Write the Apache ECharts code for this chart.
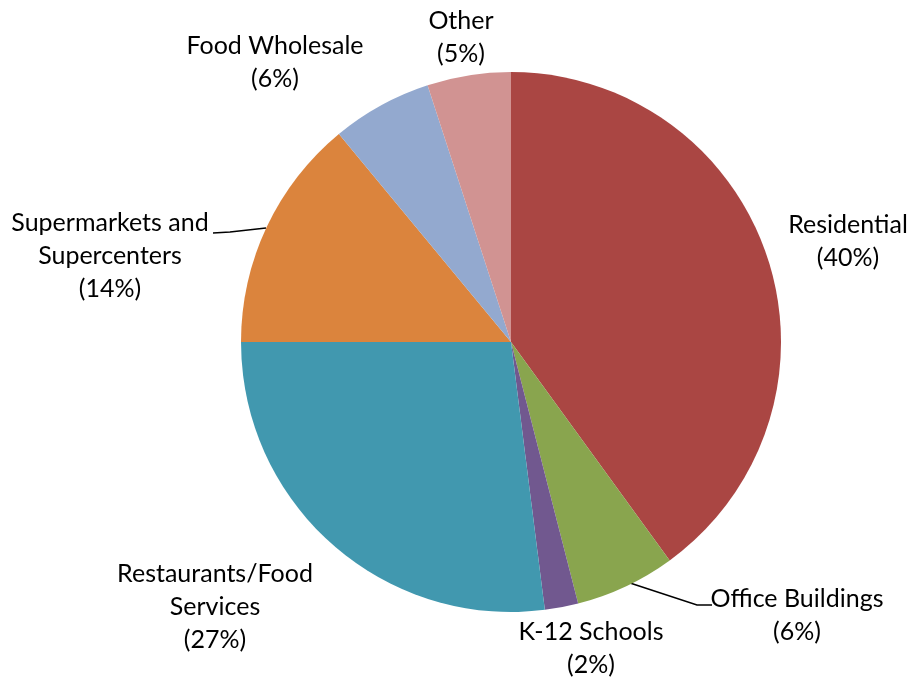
<!DOCTYPE html>
<html>
<head>
<meta charset="utf-8">
<script src="https://cdn.jsdelivr.net/npm/echarts@6/dist/echarts.min.js"></script>
<style>
html,body{margin:0;padding:0;background:#fff;}
#chart{width:910px;height:679px;}
</style>
</head>
<body>
<div id="chart"></div>
<script>
// Data
const categories = ["Residential", "Office Buildings", "K-12 Schools", "Restaurants/Food\nServices", "Supermarkets and\nSupercenters", "Food Wholesale", "Other"];
const shares = [40, 6, 2, 27, 14, 6, 5];
const colors = ["#AA4643", "#89A54E", "#71588F", "#4198AF", "#DB843D", "#93A9CF", "#D19392"];

// Label layout (centres of label blocks) and leader lines
const labelCentres = [[848, 241], [797, 615], [591, 648], [215, 607], [110, 256], [275, 62], [461, 37]];
const leaderLines = {
  1: [[630, 583], [697, 605], [712, 605]],
  4: [[266, 228], [230, 232], [213, 233]]
};

const chart = echarts.init(document.getElementById('chart'), null, {renderer: 'canvas'});
const FONT = 'Lato';
chart.setOption({
  animation: false,
  backgroundColor: '#ffffff',
  series: [{
    type: 'pie',
    center: [511, 342],
    radius: 270,
    startAngle: 90,
    clockwise: true,
    avoidLabelOverlap: false,
    itemStyle: {borderWidth: 0},
    label: {
      show: true,
      position: 'outside',
      formatter: p => p.name + '\n(' + p.value + '%)',
      fontFamily: FONT,
      fontSize: 25,
      lineHeight: 33,
      color: '#000',
      align: 'center'
    },
    labelLine: {show: false, lineStyle: {color: '#000', width: 1.5}},
    labelLayout: function (params) {
      const c = labelCentres[params.dataIndex];
      const out = {x: c[0], y: c[1], align: 'center', verticalAlign: 'middle', hideOverlap: false};
      if (leaderLines[params.dataIndex]) out.labelLinePoints = leaderLines[params.dataIndex];
      return out;
    },
    data: categories.map((name, i) => ({
      name: name,
      value: shares[i],
      itemStyle: {color: colors[i]},
      labelLine: {show: !!leaderLines[i]}
    }))
  }]
});
</script>
</body>
</html>
